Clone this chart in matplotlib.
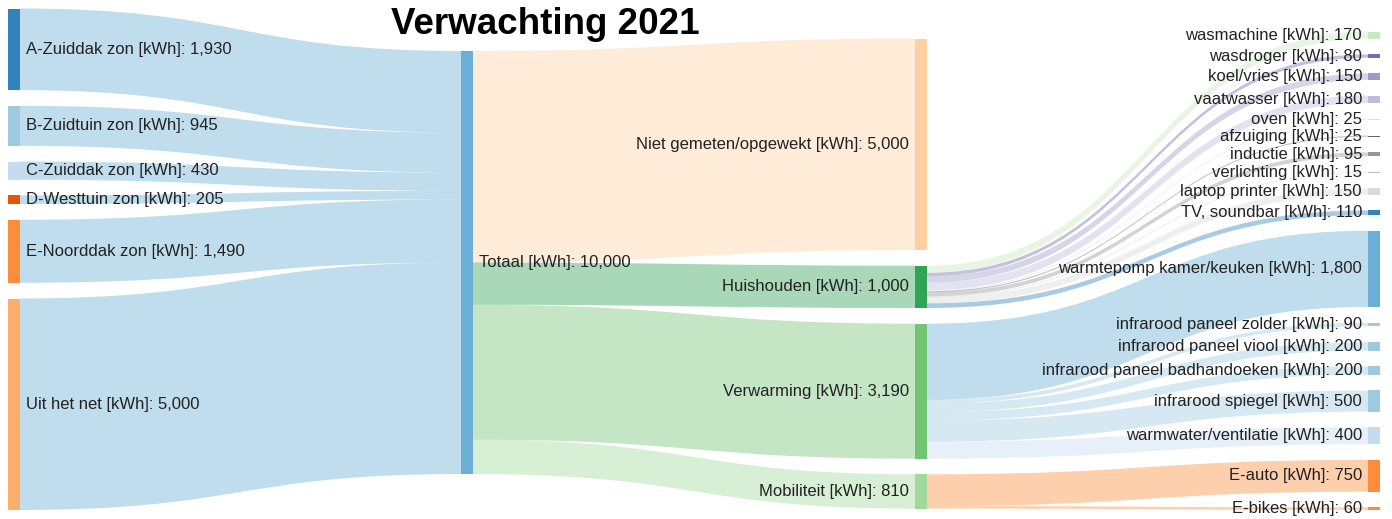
import matplotlib
matplotlib.use("Agg")
from matplotlib import pyplot as plt
from matplotlib.path import Path
from matplotlib.patches import PathPatch, Rectangle

plt.rcParams['font.family'] = ['Liberation Sans', 'DejaVu Sans']

# data (kWh)
bron_names = ["A-Zuiddak zon", "B-Zuidtuin zon", "C-Zuiddak zon", "D-Westtuin zon",
              "E-Noorddak zon", "Uit het net"]
bron_values = [1930, 945, 430, 205, 1490, 5000]

totaal_name = "Totaal"

groep_names = ["Niet gemeten/opgewekt", "Huishouden", "Verwarming", "Mobiliteit"]
groep_values = [5000, 1000, 3190, 810]

huis_names = ["wasmachine", "wasdroger", "koel/vries", "vaatwasser", "oven", "afzuiging",
              "inductie", "verlichting", "laptop printer", "TV, soundbar"]
huis_values = [170, 80, 150, 180, 25, 25, 95, 15, 150, 110]

verw_names = ["warmtepomp kamer/keuken", "infrarood paneel zolder", "infrarood paneel viool",
              "infrarood paneel badhandoeken", "infrarood spiegel", "warmwater/ventilatie"]
verw_values = [1800, 90, 200, 200, 500, 400]

mob_names = ["E-auto", "E-bikes"]
mob_values = [750, 60]

# colours (d3 category20c style)
bron_colors = ["#3182bd", "#9ecae1", "#c6dbef", "#e6550d", "#fd8d3c", "#fdae6b"]
totaal_color = "#6baed6"
groep_colors = ["#fdd0a2", "#31a354", "#74c476", "#a1d99b"]
huis_colors = ["#c7e9c0", "#756bb1", "#9e9ac8", "#bcbddc", "#dadaeb", "#636363",
               "#969696", "#bdbdbd", "#d9d9d9", "#3182bd"]
verw_colors = ["#6baed6", "#9ecae1", "#9ecae1", "#9ecae1", "#9ecae1", "#c6dbef"]
mob_colors = ["#fd8d3c", "#fd8d3c"]

# layout in pixels
W, H = 1392, 519
SCALE = 0.0423   # px per kWh
GAP = 15.7
NODE_W = 12
col_x = [8, 461, 915, 1368]
col_top = [8.5, 51, 38.5, 31.5]
LINK_ALPHA = 0.42
FS = 12

# build nodes: name -> dict(col, value, color)
nodes = {}
order = {0: [], 1: [], 2: [], 3: []}


def add_node(name, col, value, color):
    nodes[name] = dict(col=col, value=value, color=color)
    order[col].append(name)


for n, v, c in zip(bron_names, bron_values, bron_colors):
    add_node(n, 0, v, c)
add_node(totaal_name, 1, sum(bron_values), totaal_color)
for n, v, c in zip(groep_names, groep_values, groep_colors):
    add_node(n, 2, v, c)
for n, v, c in zip(huis_names + verw_names + mob_names,
                   huis_values + verw_values + mob_values,
                   huis_colors + verw_colors + mob_colors):
    add_node(n, 3, v, c)

links = []
links += [(n, totaal_name, v) for n, v in zip(bron_names, bron_values)]
links += [(totaal_name, n, v) for n, v in zip(groep_names, groep_values)]
links += [("Huishouden", n, v) for n, v in zip(huis_names, huis_values)]
links += [("Verwarming", n, v) for n, v in zip(verw_names, verw_values)]
links += [("Mobiliteit", n, v) for n, v in zip(mob_names, mob_values)]

# vertical positions
for col, names in order.items():
    y = col_top[col]
    for n in names:
        nodes[n]['y0'] = y
        nodes[n]['h'] = nodes[n]['value'] * SCALE
        y += nodes[n]['h'] + GAP
        nodes[n]['out'] = nodes[n]['y0']
        nodes[n]['in'] = nodes[n]['y0']

fig = plt.figure(figsize=(W / 100, H / 100), dpi=100)
ax = fig.add_axes([0, 0, 1, 1])
ax.set_xlim(0, W)
ax.set_ylim(H, 0)
ax.axis('off')

for s, t, v in links:
    src, tgt = nodes[s], nodes[t]
    h = v * SCALE
    x0 = col_x[src['col']] + NODE_W
    x1 = col_x[tgt['col']]
    ys = src['out']
    yt = tgt['in']
    src['out'] += h
    tgt['in'] += h
    xm = (x0 + x1) / 2
    verts = [(x0, ys), (xm, ys), (xm, yt), (x1, yt),
             (x1, yt + h), (xm, yt + h), (xm, ys + h), (x0, ys + h),
             (x0, ys)]
    codes = [Path.MOVETO, Path.CURVE4, Path.CURVE4, Path.CURVE4,
             Path.LINETO, Path.CURVE4, Path.CURVE4, Path.CURVE4,
             Path.CLOSEPOLY]
    ax.add_patch(PathPatch(Path(verts, codes), facecolor=tgt['color'],
                           alpha=LINK_ALPHA, edgecolor='none', zorder=1))

for n, d in nodes.items():
    x = col_x[d['col']]
    ax.add_patch(Rectangle((x, d['y0']), NODE_W, d['h'], facecolor=d['color'],
                           edgecolor='none', zorder=2))
    label = f"{n} [kWh]: {d['value']:,}"
    yc = d['y0'] + d['h'] / 2
    if d['col'] < 2:
        ax.text(x + NODE_W + 6, yc, label, ha='left', va='center',
                fontsize=FS, color='#222222', zorder=3)
    else:
        ax.text(x - 6, yc, label, ha='right', va='center',
                fontsize=FS, color='#222222', zorder=3)

ax.text(545, 24, "Verwachting 2021", ha='center', va='center',
        fontsize=26.5, fontweight='bold', color='black', zorder=4)

fig.savefig("out.png", dpi=100)
